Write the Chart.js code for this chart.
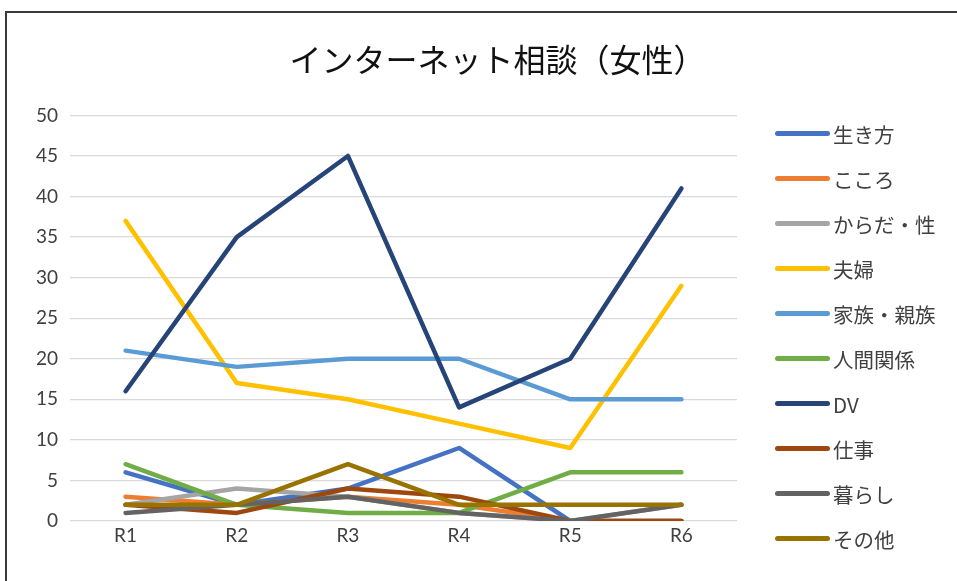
<!DOCTYPE html>
<html><head><meta charset="utf-8">
<script src="https://cdn.jsdelivr.net/npm/chart.js@4/dist/chart.umd.min.js"></script>
<style>
html,body{margin:0;padding:0;background:#fff;width:957px;height:581px;overflow:hidden;}
#wrap{position:absolute;left:0;top:0;width:957px;height:581px;}
#frame{position:absolute;left:5px;top:11px;width:970px;height:590px;border:2px solid #3a3a3a;box-sizing:border-box;pointer-events:none;}
#legend{position:absolute;left:775px;top:111px;font-family:"Noto Sans CJK JP","Noto Sans",sans-serif;font-size:20.5px;color:#404040;}
.item{height:45px;display:flex;align-items:center;}
.sw{width:55px;height:5px;border-radius:3px;margin-right:3px;}
</style></head>
<body>
<div id="wrap"><canvas id="c" width="957" height="581"></canvas></div>
<div id="frame"></div>
<div id="legend"></div>
<script>
const categories = ["R1","R2","R3","R4","R5","R6"];
const seriesNames = ["生き方","こころ","からだ・性","夫婦","家族・親族","人間関係","DV","仕事","暮らし","その他"];
const seriesColors = ["#4472C4","#ED7D31","#A5A5A5","#FFC000","#5B9BD5","#70AD47","#264478","#9E480E","#636363","#997300"];
const ikikata   = [6, 2, 4, 9, 0, 0];
const kokoro    = [3, 2, 3, 2, 0, 0];
const karada    = [2, 4, 3, 1, 0, 2];
const fuufu     = [37, 17, 15, 12, 9, 29];
const kazoku    = [21, 19, 20, 20, 15, 15];
const ningen    = [7, 2, 1, 1, 6, 6];
const dv        = [16, 35, 45, 14, 20, 41];
const shigoto   = [2, 1, 4, 3, 0, 0];
const kurashi   = [1, 2, 3, 1, 0, 2];
const sonota    = [2, 2, 7, 2, 2, 2];
const yTicks = [0,5,10,15,20,25,30,35,40,45,50];
const titleText = "インターネット相談（女性）";

const seriesValues = [ikikata,kokoro,karada,fuufu,kazoku,ningen,dv,shigoto,kurashi,sonota];
const n = seriesNames.length;
const datasets = seriesNames.map((name,i)=>({
  label:name, data:seriesValues[i], borderColor:seriesColors[i], backgroundColor:seriesColors[i],
  borderWidth:4.5, pointRadius:0, pointHoverRadius:0, tension:0, fill:false,
  borderJoinStyle:'round', borderCapStyle:'round', order:n-i
}));

const leg = document.getElementById('legend');
seriesNames.forEach((name,i)=>{
  const d=document.createElement('div'); d.className='item';
  const s=document.createElement('span'); s.className='sw'; s.style.background=seriesColors[i];
  const t=document.createElement('span'); t.textContent=name;
  d.appendChild(s); d.appendChild(t); leg.appendChild(d);
});

new Chart(document.getElementById('c'), {
  type:'line',
  data:{labels:categories, datasets},
  options:{
    responsive:false, animation:false,
    layout:{padding:{left:24,right:-14,top:0,bottom:0}},
    plugins:{
      legend:{display:false}, tooltip:{enabled:false},
      title:{display:true,text:titleText,color:'#111',
        font:{family:'"Noto Sans CJK JP"',size:32,weight:'normal'},padding:{top:41,bottom:36}}
    },
    scales:{
      x:{offset:true, grid:{display:false,drawTicks:false}, border:{display:false},
        ticks:{color:'#404040',font:{family:'Lato',size:19},padding:3},
        afterFit:s=>{s.height=60;}},
      y:{min:0,max:50, afterBuildTicks:s=>{s.ticks=yTicks.map(v=>({value:v}));},
        grid:{color:'#d9d9d9',lineWidth:1.3,drawTicks:false}, border:{display:false},
        ticks:{color:'#404040',font:{family:'Lato',size:19},padding:12},
        afterFit:s=>{s.width=46;}},
      yR:{position:'right', grid:{display:false,drawTicks:false}, border:{display:false},
        ticks:{display:false}, afterFit:s=>{s.width=234;}}
    }
  }
});
</script>
</body></html>
